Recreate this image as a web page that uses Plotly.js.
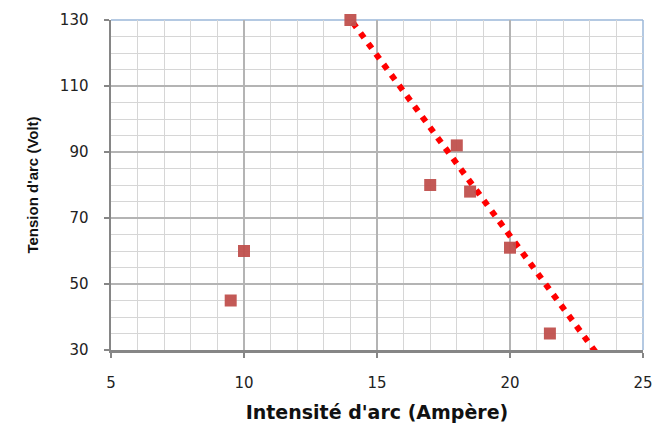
<!DOCTYPE html>
<html>
<head>
<meta charset="utf-8">
<script src="https://cdn.plot.ly/plotly-3.0.1.min.js"></script>
<style>html,body{margin:0;padding:0;background:#fff;}#chart{width:665px;height:423px;}</style>
</head>
<body>
<div id="chart"></div>
<script>
const intensite = [14, 18, 17, 18.5, 20, 21.5, 10, 9.5];
const tension = [130, 92, 80, 78, 61, 35, 60, 45];
const trendX = [13.8, 23.3];
const trendY = [132.4, 28.5];
const xTicks = [5, 10, 15, 20, 25];
const yTicks = [30, 50, 70, 90, 110, 130];

const axisColor = '#868686';
const data = [
  {
    x: trendX, y: trendY, mode: 'lines', type: 'scatter',
    line: {color: '#ff0000', width: 6, dash: '6px,7px'},
    cliponaxis: false, hoverinfo: 'skip'
  },
  {
    x: intensite, y: tension, mode: 'markers', type: 'scatter',
    marker: {symbol: 'square', size: 12, color: '#c0504d', opacity: 0.95},
    cliponaxis: false
  }
];
const layout = {
  width: 665, height: 423,
  margin: {l: 111, r: 22, t: 20, b: 73},
  paper_bgcolor: '#fff', plot_bgcolor: '#fff',
  showlegend: false,
  font: {family: 'DejaVu Sans, sans-serif', size: 15, color: '#222'},
  xaxis: {
    range: [5, 25], tickvals: xTicks, ticktext: xTicks.map(String),
    showgrid: true, gridcolor: '#b4b4b4', gridwidth: 1.5,
    minor: {dtick: 1, showgrid: true, gridcolor: '#d6d6d6', gridwidth: 1},
    showline: true, linecolor: axisColor, linewidth: 2.5,
    ticks: 'outside', ticklen: 5, tickcolor: axisColor, tickwidth: 2,
    ticklabelstandoff: 12, zeroline: false,
    tickfont: {family: 'DejaVu Sans, sans-serif', size: 15, color: '#222'},
    title: {text: "Intensité d'arc (Ampère)", standoff: 16,
      font: {family: 'DejaVu Sans, sans-serif', size: 19, color: '#111', weight: 'bold'}}
  },
  yaxis: {
    range: [30, 130], tickvals: yTicks, ticktext: yTicks.map(String),
    showgrid: true, gridcolor: '#b4b4b4', gridwidth: 1.5,
    minor: {dtick: 5, showgrid: true, gridcolor: '#d6d6d6', gridwidth: 1},
    showline: true, linecolor: axisColor, linewidth: 2.5,
    ticks: 'outside', ticklen: 5, tickcolor: axisColor, tickwidth: 2,
    ticklabelstandoff: 12, zeroline: false,
    tickfont: {family: 'DejaVu Sans, sans-serif', size: 15, color: '#222'},
    title: {text: "Tension d'arc (Volt)", standoff: 18,
      font: {family: 'Liberation Sans Narrow, Liberation Sans, sans-serif', size: 15, color: '#111', weight: 'bold'}}
  },
  shapes: [
    {type: 'line', xref: 'paper', yref: 'paper', x0: 0, x1: 1, y0: 1, y1: 1, line: {color: '#9bb7d9', width: 1.5}, layer: 'below'},
    {type: 'line', xref: 'paper', yref: 'paper', x0: 1, x1: 1, y0: 0, y1: 1, line: {color: '#9bb7d9', width: 1.5}, layer: 'below'}
  ]
};
Plotly.newPlot('chart', data, layout, {displayModeBar: false, staticPlot: true});
</script>
</body>
</html>
